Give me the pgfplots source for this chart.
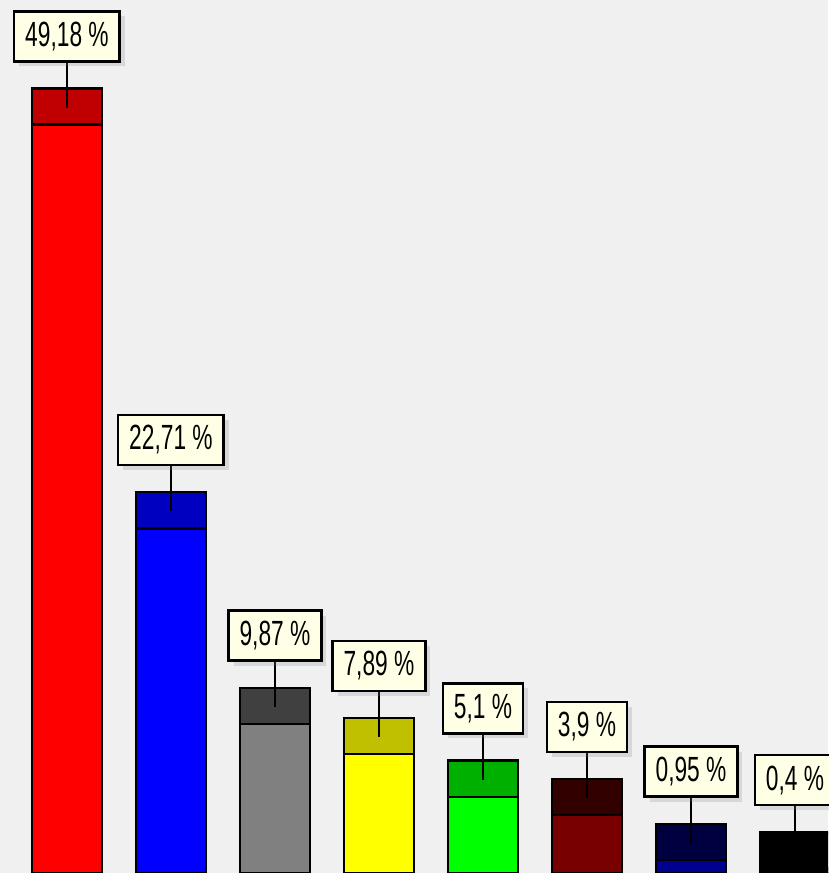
\documentclass[border=0pt]{standalone}
\usepackage{fontspec}
\setmainfont{Liberation Sans}
\newfontfamily\labfont[FakeStretch=0.65]{Liberation Sans}
\usepackage{pgfplots}
\pgfplotsset{compat=1.18}
\usetikzlibrary{shadows}
\definecolor{bg}{HTML}{F0F0F0}
\definecolor{cream}{HTML}{FFFFE6}
\definecolor{bodyA}{HTML}{FF0000}\definecolor{capA}{HTML}{C00000}
\definecolor{bodyB}{HTML}{0000FF}\definecolor{capB}{HTML}{0000C0}
\definecolor{bodyC}{HTML}{808080}\definecolor{capC}{HTML}{404040}
\definecolor{bodyD}{HTML}{FFFF00}\definecolor{capD}{HTML}{C0C000}
\definecolor{bodyE}{HTML}{00FF00}\definecolor{capE}{HTML}{00B000}
\definecolor{bodyF}{HTML}{780000}\definecolor{capF}{HTML}{330000}
\definecolor{bodyG}{HTML}{000090}\definecolor{capG}{HTML}{000040}
\definecolor{bodyH}{HTML}{000000}\definecolor{capH}{HTML}{000000}
\begin{document}
\begin{tikzpicture}
\begin{axis}[
  width=828pt, height=873pt, scale only axis,
  xmin=-0.644, xmax=7.317, ymin=0.1, ymax=57.36,
  axis line style={draw=none}, ticks=none,
  axis background/.style={fill=bg},
  clip=true,
  bbar/.style={ybar, bar width=0.673, bar shift=0pt, draw=black, line width=2.5pt},
  capbar/.style={bbar, y filter/.expression={y+2.365}},
]
\addplot[capbar, fill=capA] coordinates {(0,49.18)};
\addplot[bbar, fill=bodyA] coordinates {(0,49.18)};
\addplot[capbar, fill=capB] coordinates {(1,22.71)};
\addplot[bbar, fill=bodyB] coordinates {(1,22.71)};
\addplot[capbar, fill=capC] coordinates {(2,9.87)};
\addplot[bbar, fill=bodyC] coordinates {(2,9.87)};
\addplot[capbar, fill=capD] coordinates {(3,7.89)};
\addplot[bbar, fill=bodyD] coordinates {(3,7.89)};
\addplot[capbar, fill=capE] coordinates {(4,5.1)};
\addplot[bbar, fill=bodyE] coordinates {(4,5.1)};
\addplot[capbar, fill=capF] coordinates {(5,3.9)};
\addplot[bbar, fill=bodyF] coordinates {(5,3.9)};
\addplot[capbar, fill=capG] coordinates {(6,0.95)};
\addplot[bbar, fill=bodyG] coordinates {(6,0.95)};
\addplot[capbar, fill=capH] coordinates {(7,0.4)};
\addplot[bbar, fill=bodyH] coordinates {(7,0.4)};
\addplot[draw=none, mark=none, y filter/.expression={y+2.365},
  point meta=explicit symbolic, nodes near coords,
  nodes near coords style={anchor=south, yshift=26pt, fill=cream, draw=black,
    line width=2.5pt, minimum height=50pt, inner xsep=11pt, text=black,
    font=\labfont\fontsize{35}{40}\selectfont,
    drop shadow={shadow xshift=5pt, shadow yshift=-5pt, opacity=0.22},
    append after command={\pgfextra{\draw[line width=2.5pt, black] (\tikzlastnode.south) -- ([yshift=-45pt]\tikzlastnode.south);}}}
] coordinates {
  (0,49.18) [49,18 \%]
  (1,22.71) [22,71 \%]
  (2,9.87) [9,87 \%]
  (3,7.89) [7,89 \%]
  (4,5.1) [5,1 \%]
  (5,3.9) [3,9 \%]
  (6,0.95) [0,95 \%]
  (7,0.4) [0,4 \%]
};
\end{axis}
\pgfresetboundingbox
\path[use as bounding box] (current axis.south west) rectangle (current axis.north east);
\end{tikzpicture}
\end{document}
